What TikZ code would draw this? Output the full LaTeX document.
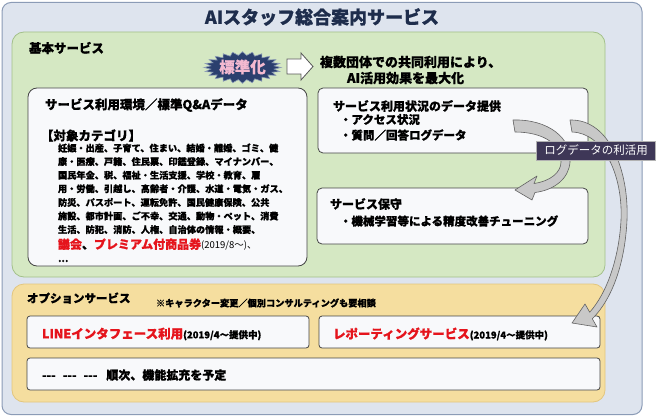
\documentclass[tikz,border=0pt]{standalone}
\usepackage{fontspec}
\setmainfont{Noto Sans CJK JP}[BoldFeatures={FakeBold=0.8}]
\newcommand{\myfs}[1]{\fontsize{#1}{#1}\selectfont}
\definecolor{framefill}{HTML}{DEE4EE}
\definecolor{framedraw}{HTML}{8B9BB6}
\definecolor{greenfill}{HTML}{D5E8C3}
\definecolor{greendraw}{HTML}{A3C08A}
\definecolor{orangefill}{HTML}{F5DE9F}
\definecolor{orangedraw}{HTML}{E3C67E}
\definecolor{boxfill}{HTML}{F8F9FB}
\definecolor{boxdraw}{HTML}{454545}
\definecolor{titlecol}{HTML}{1E2D4C}
\definecolor{myred}{HTML}{E5141C}
\definecolor{labelfill}{HTML}{3E3757}
\definecolor{starfill}{HTML}{2B3F6E}
\definecolor{starpink}{HTML}{F3B9D0}
\definecolor{arrowfill}{HTML}{C8C8C8}
\definecolor{arrowdraw}{HTML}{626262}
\begin{document}
\begin{tikzpicture}[x=1pt,y=-1pt,
  panel/.style={rectangle, inner sep=0pt, outer sep=0pt},
  whitebox/.style={panel, fill=boxfill, draw=boxdraw, line width=0.8pt, rounded corners=5pt},
  txt/.style={anchor=west, inner sep=0pt, outer sep=0pt},
  body/.style={txt, font=\myfs{9.2}\bfseries},
  curvarrow/.style={fill=arrowfill, draw=arrowdraw, line width=0.6pt, line join=round}]
\useasboundingbox (0,0) rectangle (660,417);
\fill[white] (0,0) rectangle (660,417);

% outer frame
\node[panel, fill=framefill, draw=framedraw, line width=1pt, rounded corners=9pt,
      minimum width=640pt, minimum height=412pt] (frame) at (322,208.5) {};
\node[inner sep=0pt, font=\myfs{18}\bfseries, text=titlecol] (title) at (322,17) {AIスタッフ総合案内サービス};

% basic services panel
\node[panel, fill=greenfill, draw=greendraw, line width=0.8pt, rounded corners=12pt,
      minimum width=593pt, minimum height=245pt] (basic) at (308.5,154.5) {};
\node[txt, font=\myfs{12.5}\bfseries] (basichead) at (29,48) {基本サービス};

% star badge
\fill[starfill, draw=framedraw, line width=0.6pt] (281,67.5)
  \foreach \i in {1,...,47} { -- ({242.5+(35.25+3.25*cos(\i*180))*cos(\i*7.5)},{67.5+(14+1.8*cos(\i*180))*sin(\i*7.5)}) } -- cycle;
\node[inner sep=0pt, font=\myfs{15.5}\bfseries, text=starpink] (std) at (242.5,67) {標準化};

% hollow arrow
\draw[fill=white, draw=gray!70!black, line width=0.8pt, line join=miter]
  (287,59) -- (301,59) -- (301,53) -- (313,66.5) -- (301,80) -- (301,74) -- (287,74) -- cycle;
\node[txt, font=\myfs{13}\bfseries] (merit1) at (320,62) {複数団体での共同利用により、};
\node[txt, font=\myfs{13}\bfseries] (merit2) at (347,78) {AI活用効果を最大化};

% left box
\node[whitebox, rounded corners=9pt, minimum width=279pt, minimum height=178pt] (env) at (167.5,177) {};
\node[txt, font=\myfs{12.5}\bfseries] (envhead) at (45,105) {サービス利用環境／標準Q\&Aデータ};
\node[txt, font=\myfs{12.5}\bfseries] (cat) at (41,135.5) {【対象カテゴリ】};
\node[body] (l1) at (58,148) {妊娠・出産、子育て、住まい、結婚・離婚、ゴミ、健};
\node[body] (l2) at (58,161.6) {康・医療、戸籍、住民票、印鑑登録、マイナンバー、};
\node[body] (l3) at (58,175.2) {国民年金、税、福祉・生活支援、学校・教育、雇};
\node[body] (l4) at (58,188.8) {用・労働、引越し、高齢者・介護、水道・電気・ガス、};
\node[body] (l5) at (58,202.4) {防災、パスポート、運転免許、国民健康保険、公共};
\node[body] (l6) at (58,216) {施設、都市計画、ご不幸、交通、動物・ペット、消費};
\node[body] (l7) at (58,229.6) {生活、防犯、消防、人権、自治体の情報・概要、};
\node[txt] (l8) at (58,244.5) {{\myfs{12}\bfseries\textcolor{myred}{議会}、\textcolor{myred}{プレミアム付商品券}}{\myfs{9.5}(2019/8〜)、}};
\node[body] (l9) at (58,261) {…};

% right top box
\node[whitebox, minimum width=270pt, minimum height=65pt] (usage) at (453,120.5) {};
\node[txt, font=\myfs{12}\bfseries] (usagehead) at (333,106) {サービス利用状況のデータ提供};
\node[txt, font=\myfs{11.5}\bfseries] (usage1) at (340,119.5) {・アクセス状況};
\node[txt, font=\myfs{11.5}\bfseries] (usage2) at (340,135) {・質問／回答ログデータ};

% right bottom box
\node[whitebox, minimum width=271pt, minimum height=56pt] (maint) at (452.5,216) {};
\node[txt, font=\myfs{12}\bfseries] (mainthead) at (330,204) {サービス保守};
\node[txt, font=\myfs{11.5}\bfseries] (maint1) at (340,221) {・機械学習等による精度改善チューニング};

% option services panel
\node[panel, fill=orangefill, draw=orangedraw, line width=0.8pt, rounded corners=12pt,
      minimum width=593pt, minimum height=118pt] (option) at (308.5,343) {};
\node[txt, font=\myfs{11.5}\bfseries] (opthead) at (27,298) {オプションサービス};
\node[txt, font=\myfs{9.2}\bfseries] (optnote) at (156,303) {※キャラクター変更／個別コンサルティングも要相談};
\node[whitebox, rounded corners=3pt, minimum width=282pt, minimum height=32pt] (line) at (168,332) {};
\node[txt] (linetxt) at (42,334) {{\myfs{12.5}\bfseries\textcolor{myred}{LINEインタフェース利用}}{\myfs{9.5}\bfseries(2019/4〜提供中)}};
\node[whitebox, rounded corners=3pt, minimum width=281pt, minimum height=32pt] (report) at (459.5,332) {};
\node[txt] (reporttxt) at (333,334) {{\myfs{12.5}\bfseries\textcolor{myred}{レポーティングサービス}}{\myfs{9.5}\bfseries(2019/4〜提供中)}};
\node[whitebox, rounded corners=3pt, minimum width=573pt, minimum height=32pt] (future) at (313.5,374) {};
\node[txt, font=\myfs{12}\bfseries] (futuretxt) at (42,375) {{-}{-}{-}\hspace{7pt}{-}{-}{-}\hspace{7pt}{-}{-}{-}\hspace{9pt}順次、機能拡充を予定};

% curved arrows
\draw[curvarrow] (513,120) .. controls (548,119) and (572,138) .. (570,162)
  .. controls (569,178) and (555,190) .. (535,192.5) -- (532,200) -- (515,190) -- (537,176) -- (534,183.5)
  .. controls (551,181) and (561,172) .. (561,162) .. controls (562,145) and (544,132) .. (515,132) -- cycle;
\draw[curvarrow] (570,120) .. controls (610,119) and (629,172) .. (627,220)
  .. controls (625,262) and (613,298) .. (592.3,318.8) -- (597,327) -- (572,323) -- (585,304) -- (589.7,312.2)
  .. controls (607,293) and (619,258) .. (621,220) .. controls (623,176) and (604,133) .. (572,132) -- cycle;

% label
\node[panel, fill=labelfill, draw=gray!60, line width=0.4pt, minimum width=119pt, minimum height=19pt,
      text=white, font=\myfs{11.5}] (loglabel) at (596,150.5) {ログデータの利活用};
\end{tikzpicture}
\end{document}
